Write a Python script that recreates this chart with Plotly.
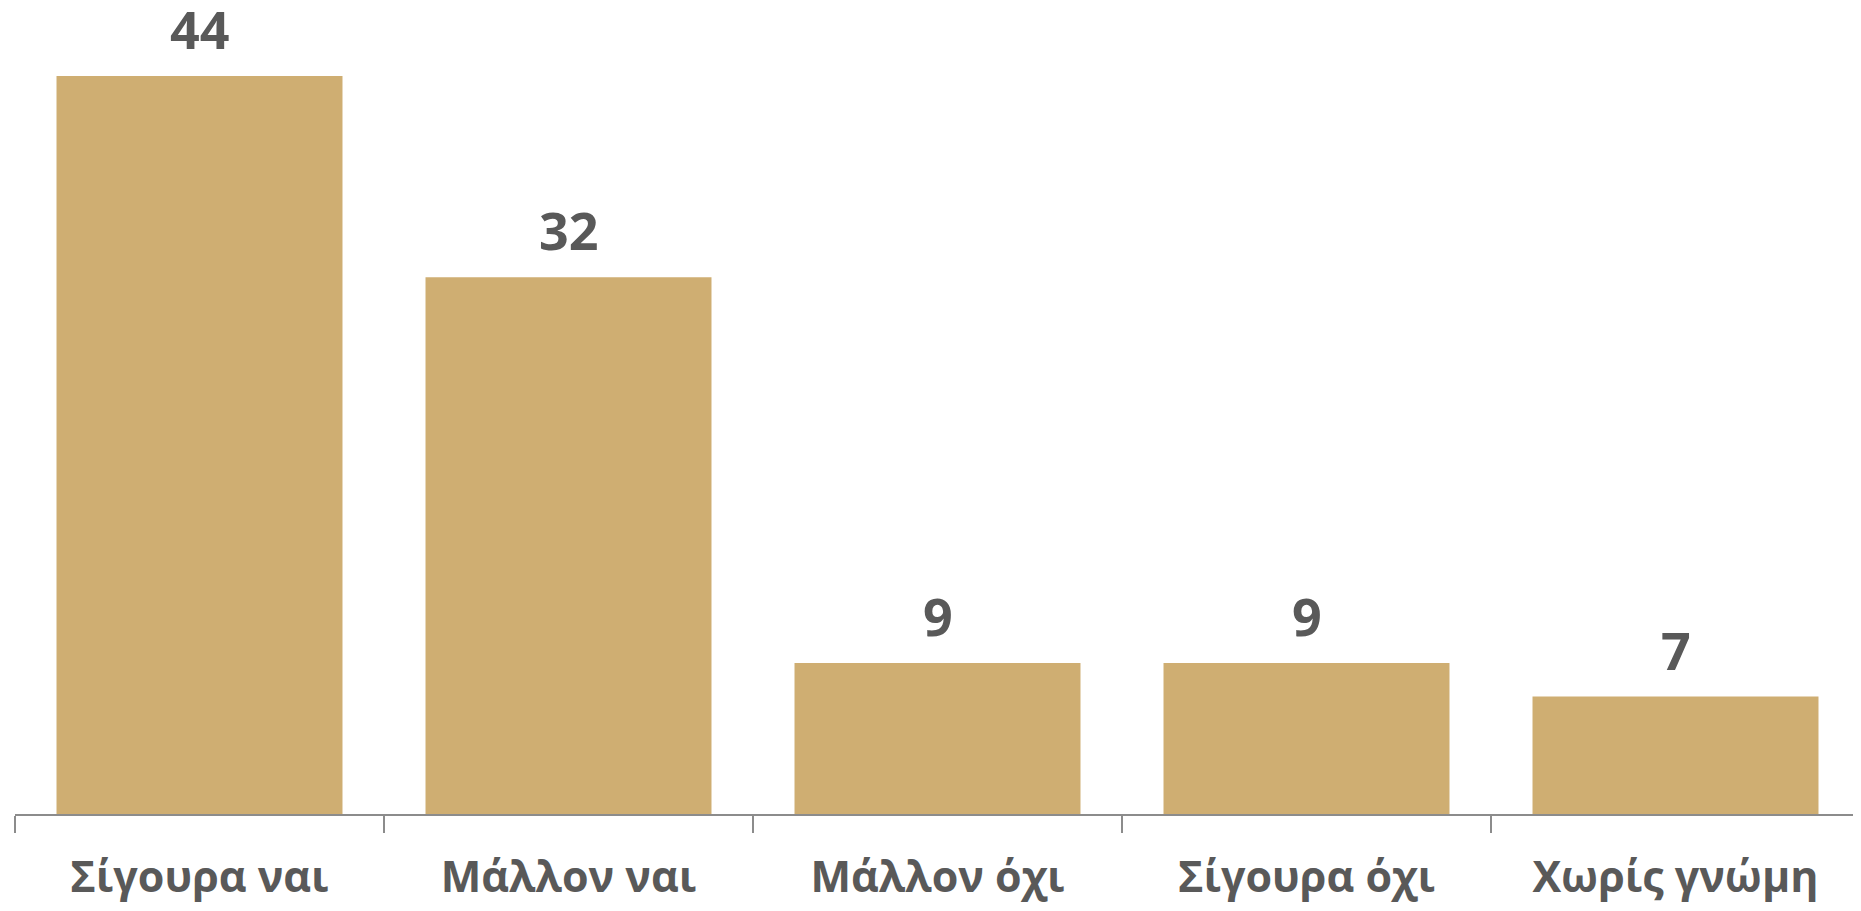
import plotly.graph_objects as go

categories = ["Σίγουρα ναι", "Μάλλον ναι", "Μάλλον όχι", "Σίγουρα όχι", "Χωρίς γνώμη"]
values = [44, 32, 9, 9, 7]

BAR_COLOR = "#CFAE72"
TEXT_COLOR = "#595959"
AXIS_COLOR = "#8C8C8C"

fig = go.Figure(
    go.Bar(
        x=categories,
        y=values,
        marker=dict(color=BAR_COLOR, line=dict(width=0)),
        hoverinfo="skip",
    )
)

for c, v in zip(categories, values):
    fig.add_annotation(
        x=c, y=v, text=str(v), showarrow=False,
        yanchor="bottom", yshift=10,
        font=dict(family="Open Sans", size=52, color=TEXT_COLOR, weight="bold"),
    )

# page body has an 8px margin, so the figure is 8px smaller than the window
fig.update_layout(
    width=1853, height=903,
    margin=dict(l=7, r=1, t=0, b=97, autoexpand=False),
    paper_bgcolor="white", plot_bgcolor="white",
    bargap=0.225,
    showlegend=False,
    font=dict(family="Open Sans", color=TEXT_COLOR),
)
fig.update_xaxes(
    automargin=False,
    showline=True, linecolor=AXIS_COLOR, linewidth=2,
    ticks="outside", tickson="boundaries", ticklen=17, tickcolor=AXIS_COLOR, tickwidth=2,
    tickfont=dict(family="Open Sans", size=43, color=TEXT_COLOR, weight="bold"),
    ticklabelstandoff=24,
    showgrid=False,
)
fig.update_yaxes(range=[0, 48.06], visible=False, showgrid=False, zeroline=False, automargin=False)

fig.write_html("out.html")
